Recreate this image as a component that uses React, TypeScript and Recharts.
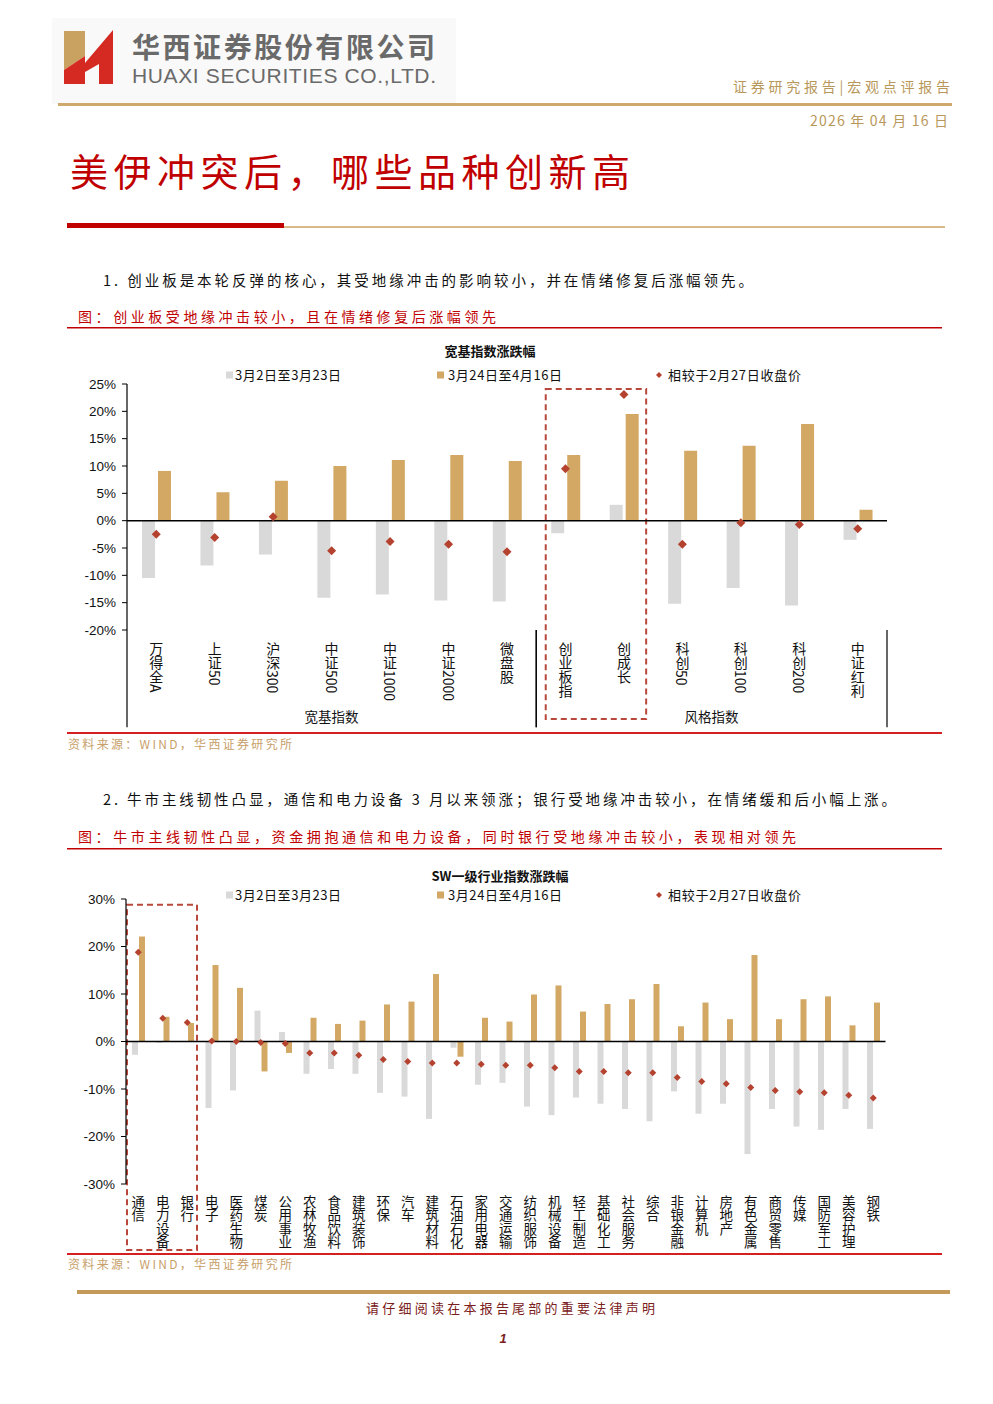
import React from 'react';
import { ComposedChart, Bar, Scatter, XAxis, YAxis, ReferenceLine, ReferenceArea } from 'recharts';

// ---------- data ----------
const seriesNames = ['3月2日至3月23日', '3月24日至4月16日', '相较于2月27日收盘价'];

const cats1 = ['万得全A', '上证50', '沪深300', '中证500', '中证1000', '中证2000', '微盘股', '创业板指', '创成长', '科创50', '科创100', '科创200', '中证红利'];
const early1 = [-10.5, -8.2, -6.2, -14.1, -13.5, -14.6, -14.8, -2.3, 2.9, -15.2, -12.3, -15.5, -3.5];
const late1 = [9.1, 5.2, 7.3, 10.0, 11.1, 12.0, 10.9, 12.0, 19.5, 12.8, 13.7, 17.7, 2.0];
const vs1 = [-2.5, -3.1, 0.7, -5.5, -3.8, -4.3, -5.7, 9.5, 23.1, -4.3, -0.4, -0.7, -1.5];
const yTicks1 = [-20, -15, -10, -5, 0, 5, 10, 15, 20, 25];
const groups1 = [
  { name: '宽基指数', from: '万得全A', to: '微盘股' },
  { name: '风格指数', from: '创业板指', to: '中证红利' },
];
const highlight1 = { from: '创业板指', to: '创成长' };

const cats2 = ['通信', '电力设备', '银行', '电子', '医药生物', '煤炭', '公用事业', '农林牧渔', '食品饮料', '建筑装饰', '环保', '汽车', '建筑材料', '石油石化', '家用电器', '交通运输', '纺织服饰', '机械设备', '轻工制造', '基础化工', '社会服务', '综合', '非银金融', '计算机', '房地产', '有色金属', '商贸零售', '传媒', '国防军工', '美容护理', '钢铁'];
const early2 = [-2.8, -0.3, 0.1, -14.0, -10.3, 6.5, 2.0, -6.8, -5.8, -6.8, -10.8, -11.6, -16.3, -1.3, -9.1, -8.7, -13.7, -15.5, -11.8, -13.1, -14.2, -16.8, -10.5, -15.2, -13.1, -23.7, -14.2, -17.9, -18.6, -14.2, -18.4];
const late2 = [22.1, 5.2, 3.9, 16.1, 11.3, -6.3, -2.4, 5.0, 3.7, 4.4, 7.8, 8.4, 14.2, -3.2, 5.0, 4.2, 9.9, 11.8, 6.3, 7.9, 8.9, 12.1, 3.2, 8.2, 4.7, 18.2, 4.7, 8.9, 9.5, 3.4, 8.2];
const vs2 = [18.8, 4.9, 4.0, 0.1, 0.0, -0.2, -0.4, -2.4, -2.4, -2.9, -3.8, -4.2, -4.5, -4.5, -4.8, -5.0, -5.0, -5.5, -6.3, -6.3, -6.6, -6.6, -7.6, -8.4, -8.9, -9.7, -10.3, -10.6, -10.8, -11.3, -11.9];
const yTicks2 = [-30, -20, -10, 0, 10, 20, 30];
const highlight2 = { from: '通信', to: '银行' };

// ---------- style ----------
const GRAY = '#d9d9d9';
const GOLD = '#d2a864';
const DOT = '#b5412f';
const BOX = '#b8483c';
const HEAD_GOLD = '#b8975a';
const CJK = '"Noto Sans CJK SC", sans-serif';
const LAT = '"Liberation Sans", Arial, sans-serif';

const data1 = cats1.map((name, i) => ({ name, a: early1[i], b: late1[i], c: vs1[i] }));
const data2 = cats2.map((name, i) => ({ name, a: early2[i], b: late2[i], c: vs2[i] }));

const pct = (v: number) => `${v}%`;

const makeVTick = (fs: number) => (props: any) => {
  const { x, y, payload } = props;
  return (
    <text x={x} y={y} textAnchor="start" fontSize={fs} fontFamily={CJK} fill="#111"
      style={{ writingMode: 'vertical-rl' } as any}>
      {payload.value}
    </text>
  );
};

const diamond = (r: number) => (p: any) => (
  <polygon points={`${p.cx},${p.cy - r} ${p.cx + r},${p.cy} ${p.cx},${p.cy + r} ${p.cx - r},${p.cy}`} fill={DOT} />
);

const dashedBox = (il: number, ir: number) => (p: any) => (
  <rect x={p.x + il} y={p.y} width={p.width - il - ir} height={p.height} fill="none" stroke={BOX} strokeWidth={2} strokeDasharray="6 4" />
);

const sepLines = (p: any) => (
  <g>
    <line x1={p.x} x2={p.x} y1={p.y} y2={p.y + p.height} stroke="#000" strokeWidth={1.2} />
    <line x1={p.x + p.width} x2={p.x + p.width} y1={p.y} y2={p.y + p.height} stroke="#000" strokeWidth={1.2} />
  </g>
);

const Legend = ({ cy }: { cy: number }) => (
  <g fontFamily={CJK} fontSize={13} fill="#111">
    <rect x={226} y={cy - 3.5} width={7} height={7} fill={GRAY} />
    <text x={235} y={cy + 4.5} textLength={106}>{seriesNames[0]}</text>
    <rect x={437} y={cy - 3.5} width={7} height={7} fill={GOLD} />
    <text x={448} y={cy + 4.5} textLength={114}>{seriesNames[1]}</text>
    <polygon points={`659,${cy - 3} 662,${cy} 659,${cy + 3} 656,${cy}`} fill={DOT} />
    <text x={668} y={cy + 4.5} textLength={133}>{seriesNames[2]}</text>
  </g>
);

const yAxisProps = {
  width: 60,
  axisLine: { stroke: '#000', strokeWidth: 1.2 },
  tickLine: { stroke: '#000' },
  tickSize: 5,
  tickMargin: 6,
  tick: { fill: '#111', fontSize: 13.5, fontFamily: LAT },
  tickFormatter: pct,
  interval: 0 as const,
};

export default function App() {
  return (
    <div style={{ position: 'absolute', left: 0, top: 0, width: 993, height: 1404, background: '#fff', overflow: 'hidden' }}>
      <svg width={993} height={1404} style={{ position: 'absolute', left: 0, top: 0 }}>
        {/* header logo */}
        <rect x={52} y={18} width={404} height={86} fill="#f9f9f9" />
        <polygon points="64,31 85,31 85,56 64,70" fill="#c9a160" />
        <polygon points="64,70 85,56 85,84 64,84" fill="#d42a22" />
        <polygon points="85,63 113,30 113,84 99,84 99,64 85,72" fill="#d42a22" />
        <text x={132} y={58} fontFamily={CJK} fontWeight={700} fontSize={28} fill="#6a6a6a" textLength={303}>华西证券股份有限公司</text>
        <text x={132} y={83} fontFamily={LAT} fontSize={21} fill="#6a6a6a" textLength={304}>HUAXI SECURITIES CO.,LTD.</text>
        <text x={733} y={92} fontFamily={CJK} fontSize={14} fill={HEAD_GOLD} textLength={217}>证券研究报告|宏观点评报告</text>
        <rect x={58} y={103} width={894} height={3} fill="#cfa86e" />
        <text x={810} y={126} fontFamily={CJK} fontSize={14} fill={HEAD_GOLD} textLength={138}>2026 年 04 月 16 日</text>

        {/* title */}
        <text x={70} y={186} fontFamily={CJK} fontSize={38} fill="#c00000" textLength={560}>美伊冲突后，哪些品种创新高</text>
        <rect x={67} y={223} width={217} height={5} fill="#c00000" />
        <rect x={284} y={226} width={661} height={2} fill="#d9b98a" />

        {/* section 1 */}
        <text x={103} y={286} fontFamily={CJK} fontSize={14.5} fill="#111" textLength={650}>1. 创业板是本轮反弹的核心，其受地缘冲击的影响较小，并在情绪修复后涨幅领先。</text>
        <text x={78} y={322} fontFamily={CJK} fontSize={14} fill="#c00000" textLength={418}>图：创业板受地缘冲击较小，且在情绪修复后涨幅领先</text>
        <rect x={67} y={327} width={875} height={1.5} fill="#c00000" />
        <text x={490} y={356} textAnchor="middle" fontFamily={CJK} fontWeight={700} fontSize={13} fill="#111">宽基指数涨跌幅</text>
        <Legend cy={375} />
        <rect x={67} y={732} width={875} height={2} fill="#d42020" />
        <text x={68} y={749} fontFamily={CJK} fontSize={12} fill="#c8a06a" textLength={224}>资料来源：WIND，华西证券研究所</text>

        {/* section 2 */}
        <text x={103} y={805} fontFamily={CJK} fontSize={14.5} fill="#111" textLength={793}>2. 牛市主线韧性凸显，通信和电力设备 3 月以来领涨；银行受地缘冲击较小，在情绪缓和后小幅上涨。</text>
        <text x={78} y={842} fontFamily={CJK} fontSize={14} fill="#c00000" textLength={718}>图：牛市主线韧性凸显，资金拥抱通信和电力设备，同时银行受地缘冲击较小，表现相对领先</text>
        <rect x={67} y={848} width={875} height={1.5} fill="#c00000" />
        <text x={500} y={881} textAnchor="middle" fontFamily={CJK} fontWeight={700} fontSize={13} fill="#111">SW一级行业指数涨跌幅</text>
        <Legend cy={895} />
        <rect x={67} y={1253} width={875} height={2} fill="#d42020" />
        <text x={68} y={1269} fontFamily={CJK} fontSize={12} fill="#c8a06a" textLength={224}>资料来源：WIND，华西证券研究所</text>

        {/* footer */}
        <rect x={77} y={1290} width={873} height={4} fill="#c49a5a" />
        <text x={366} y={1313} fontFamily={CJK} fontSize={13} fill="#7b2020" textLength={289}>请仔细阅读在本报告尾部的重要法律声明</text>
        <text x={503} y={1343} textAnchor="middle" fontFamily={LAT} fontWeight={700} fontStyle="italic" fontSize={13} fill="#7b2020">1</text>
      </svg>

      {/* chart 1 */}
      <div style={{ position: 'absolute', left: 0, top: 340 }}>
        <ComposedChart width={993} height={400} data={data1} margin={{ top: 44, right: 106, bottom: 10, left: 67 }} barGap={3}>
          <XAxis dataKey="name" height={100} axisLine={false} tickLine={false} tickSize={0} tickMargin={12} interval={0} tick={makeVTick(14)} />
          <YAxis domain={[-20, 25]} ticks={yTicks1} {...yAxisProps} />
          <Bar dataKey="a" name={seriesNames[0]} fill={GRAY} barSize={13} isAnimationActive={false} />
          <Bar dataKey="b" name={seriesNames[1]} fill={GOLD} barSize={13} isAnimationActive={false} />
          <ReferenceLine y={0} stroke="#000" strokeWidth={1.5} />
          <Scatter dataKey="c" name={seriesNames[2]} fill={DOT} shape={diamond(4.5)} isAnimationActive={false} />
          {groups1.map((g) => (
            <ReferenceArea key={g.name} x1={g.from} x2={g.to} y1={-20} y2={-37.8} ifOverflow="visible" shape={sepLines}
              label={{ value: g.name, position: 'insideBottom', fill: '#111', fontSize: 13.5, fontFamily: CJK }} />
          ))}
          <ReferenceArea x1={highlight1.from} x2={highlight1.to} y1={24.1} y2={-36.3} ifOverflow="visible" shape={dashedBox(9.5, 7)} />
        </ComposedChart>
      </div>

      {/* chart 2 */}
      <div style={{ position: 'absolute', left: 0, top: 860 }}>
        <ComposedChart width={993} height={400} data={data2} margin={{ top: 39, right: 107.5, bottom: 10, left: 66 }} barGap={1}>
          <XAxis dataKey="name" height={66} axisLine={false} tickLine={false} tickSize={0} tickMargin={11} interval={0} tick={makeVTick(13.5)} />
          <YAxis domain={[-30, 30]} ticks={yTicks2} {...yAxisProps} />
          <Bar dataKey="a" name={seriesNames[0]} fill={GRAY} barSize={6} isAnimationActive={false} />
          <Bar dataKey="b" name={seriesNames[1]} fill={GOLD} barSize={6} isAnimationActive={false} />
          <ReferenceLine y={0} stroke="#000" strokeWidth={1.5} />
          <Scatter dataKey="c" name={seriesNames[2]} fill={DOT} shape={diamond(3.5)} isAnimationActive={false} />
          <ReferenceArea x1={highlight2.from} x2={highlight2.to} y1={28.8} y2={-43.9} ifOverflow="visible" shape={dashedBox(1, 2.5)} />
        </ComposedChart>
      </div>
    </div>
  );
}
